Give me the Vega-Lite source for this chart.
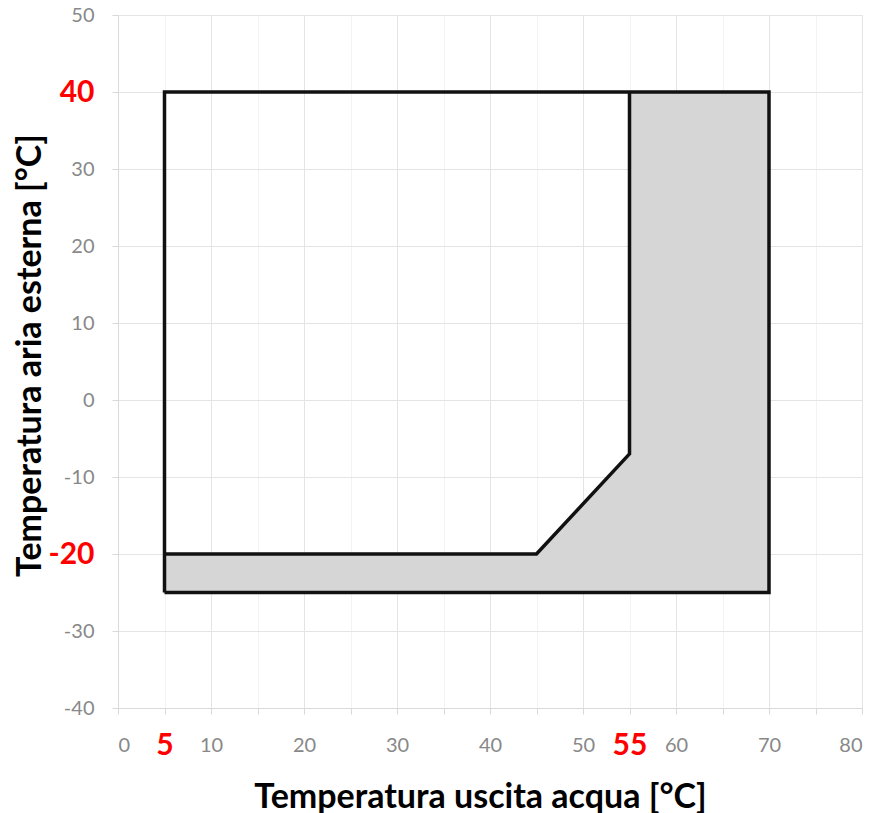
{
  "$schema": "https://vega.github.io/schema/vega-lite/v6.json",
  "width": 744,
  "height": 693,
  "autosize": {"type": "none"},
  "padding": {"left": 118, "top": 15, "right": 20, "bottom": 105},
  "background": "white",
  "config": {
    "view": {"stroke": null},
    "font": "Lato",
    "axis": {
      "labelFont": "Lato",
      "titleFont": "Lato",
      "titleFontWeight": "bold",
      "titleColor": "#000000",
      "titleFontSize": 34,
      "domainColor": "#d9d9d9",
      "tickColor": "#d9d9d9",
      "tickSize": 6
    }
  },
  "datasets": {
    "zone": [
      {"wx": 5, "lo": -25, "hi": -20},
      {"wx": 45, "lo": -25, "hi": -20},
      {"wx": 55, "lo": -25, "hi": -7},
      {"wx": 55.001, "lo": -25, "hi": 40},
      {"wx": 70, "lo": -25, "hi": 40}
    ],
    "outline": [
      {"path": "outer", "x": 5, "y": -25, "o": 1},
      {"path": "outer", "x": 5, "y": 40, "o": 2},
      {"path": "outer", "x": 70, "y": 40, "o": 3},
      {"path": "outer", "x": 70, "y": -25, "o": 4},
      {"path": "outer", "x": 5, "y": -25, "o": 5},
      {"path": "inner", "x": 5, "y": -20, "o": 1},
      {"path": "inner", "x": 45, "y": -20, "o": 2},
      {"path": "inner", "x": 55, "y": -7, "o": 3},
      {"path": "inner", "x": 55, "y": 40, "o": 4}
    ]
  },
  "layer": [
    {
      "data": {"name": "zone"},
      "mark": {"type": "area", "color": "#d6d6d6"},
      "encoding": {
        "x": {
          "field": "wx", "type": "quantitative",
          "scale": {"domain": [0, 80], "nice": false},
          "axis": {
            "values": [0, 5, 10, 15, 20, 25, 30, 35, 40, 45, 50, 55, 60, 65, 70, 75, 80],
            "title": "Temperatura uscita acqua [°C]",
            "titlePadding": 20,
            "titleX": 362,
            "titleAlign": "center",
            "titleAnchor": "middle",
            "labelExpr": "datum.value % 10 == 0 || datum.value == 5 || datum.value == 55 ? toString(datum.value) : ''",
            "labelColor": {"expr": "datum.value == 5 || datum.value == 55 ? '#ff0000' : '#888888'"},
            "labelFontSize": {"expr": "datum.value == 5 || datum.value == 55 ? 30 : 20"},
            "labelFontWeight": {"expr": "datum.value == 5 || datum.value == 55 ? 'bold' : 'normal'"},
            "labelPadding": 31,
            "labelBaseline": "middle",
            "gridColor": {"expr": "datum.value % 10 == 0 ? '#e4e4e4' : '#f3f3f3'"},
            "grid": true
          }
        },
        "y": {
          "field": "lo", "type": "quantitative",
          "scale": {"domain": [-40, 50], "nice": false},
          "axis": {
            "values": [-40, -35, -30, -25, -20, -15, -10, -5, 0, 5, 10, 15, 20, 25, 30, 35, 40, 45, 50],
            "title": "Temperatura aria esterna [°C]",
            "titleAngle": -90,
            "titleX": -88,
            "titleY": 340,
            "titleBaseline": "middle",
            "titleAlign": "center",
            "labelExpr": "datum.value % 10 == 0 ? toString(datum.value) : ''",
            "labelColor": {"expr": "datum.value == 40 || datum.value == -20 ? '#ff0000' : '#888888'"},
            "labelFontSize": {"expr": "datum.value == 40 || datum.value == -20 ? 30 : 20"},
            "labelFontWeight": {"expr": "datum.value == 40 || datum.value == -20 ? 'bold' : 'normal'"},
            "labelPadding": 18,
            "gridColor": {"expr": "datum.value % 10 == 0 ? '#e4e4e4' : '#f3f3f3'"},
            "grid": true
          }
        },
        "y2": {"field": "hi"}
      }
    },
    {
      "data": {"name": "outline"},
      "mark": {"type": "line", "color": "#111111", "strokeWidth": 3.5, "strokeJoin": "miter"},
      "encoding": {
        "x": {"field": "x", "type": "quantitative"},
        "y": {"field": "y", "type": "quantitative"},
        "detail": {"field": "path"},
        "order": {"field": "o", "type": "quantitative"}
      }
    }
  ]
}
